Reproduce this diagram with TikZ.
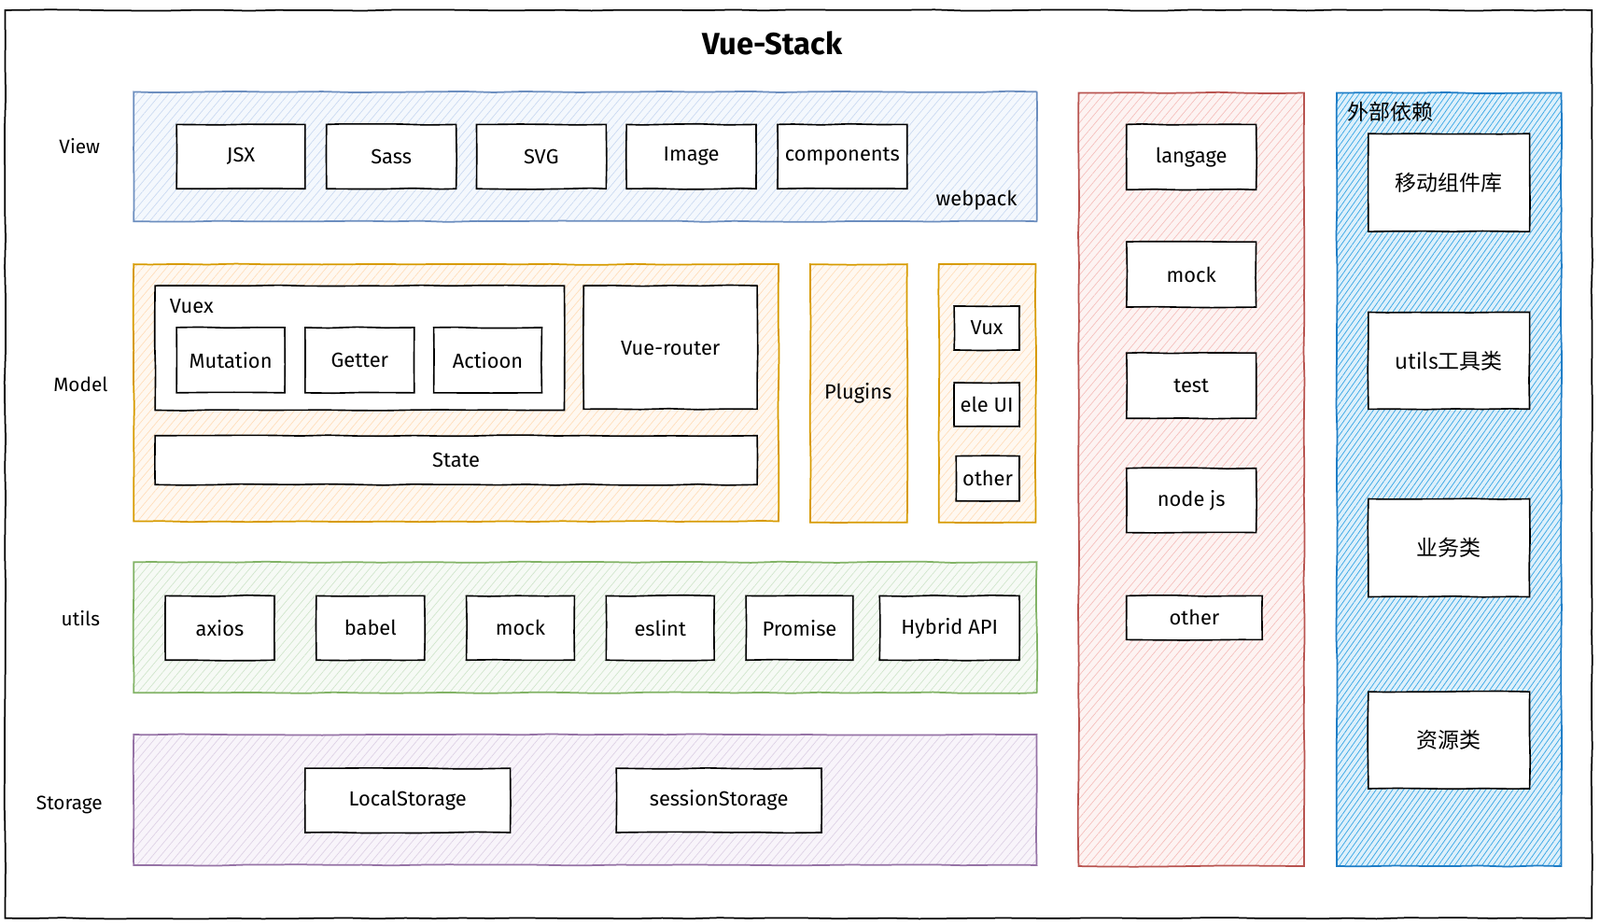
\documentclass[tikz,border=0pt]{standalone}
\usepackage{fontspec}
\setmainfont{Fira Sans}
\newfontfamily\cjk{Noto Sans CJK SC}
\usetikzlibrary{patterns.meta,decorations.pathmorphing}
\definecolor{gBlueS}{HTML}{6C8EBF}\definecolor{gBlueF}{HTML}{F4F8FD}\definecolor{gBlueH}{HTML}{C9D9F1}
\definecolor{gOrS}{HTML}{D79B00}\definecolor{gOrF}{HTML}{FFF8F0}\definecolor{gOrH}{HTML}{FFDDB8}
\definecolor{gGrS}{HTML}{82B366}\definecolor{gGrF}{HTML}{F6FAF5}\definecolor{gGrH}{HTML}{CFE5CA}
\definecolor{gPuS}{HTML}{9673A6}\definecolor{gPuF}{HTML}{F8F4FA}\definecolor{gPuH}{HTML}{DDD0E5}
\definecolor{gReS}{HTML}{B85450}\definecolor{gReF}{HTML}{FDF3F2}\definecolor{gReH}{HTML}{F5BDBA}
\definecolor{gDbS}{HTML}{1F7DC6}\definecolor{gDbF}{HTML}{DDF0FB}\definecolor{gDbH}{HTML}{3DA9E6}
\newcommand{\bx}[7]{\node[#6, minimum width={(#4-#2)*0.5pt}, minimum height={(#5-#3)*0.5pt}] (#1) at ({(#2+#4)/2},{(#3+#5)/2}) {#7};}
\begin{document}
\begin{tikzpicture}[x=0.5pt,y=-0.5pt,
  sk/.style={decorate, decoration={random steps, segment length=14pt, amplitude=0.3pt}},
  inbox/.style={draw=black, fill=white, line width=0.75pt, inner sep=0pt, outer sep=0pt, font=\fontsize{10}{12}\selectfont, sk},
  cjkbox/.style={inbox, font=\cjk\fontsize{10.5}{12}\selectfont},
  grp/.style={line width=0.8pt, inner sep=0pt, outer sep=0pt, sk},
  gblue/.style={grp, draw=gBlueS, preaction={fill=gBlueF}, pattern={Lines[angle=50,distance=3pt,line width=0.3pt]}, pattern color=gBlueH},
  gor/.style={grp, draw=gOrS, preaction={fill=gOrF}, pattern={Lines[angle=50,distance=3pt,line width=0.3pt]}, pattern color=gOrH},
  ggr/.style={grp, draw=gGrS, preaction={fill=gGrF}, pattern={Lines[angle=50,distance=3pt,line width=0.3pt]}, pattern color=gGrH},
  gpu/.style={grp, draw=gPuS, preaction={fill=gPuF}, pattern={Lines[angle=50,distance=3pt,line width=0.3pt]}, pattern color=gPuH},
  gre/.style={grp, draw=gReS, preaction={fill=gReF}, pattern={Lines[angle=50,distance=3pt,line width=0.3pt]}, pattern color=gReH},
  gdb/.style={grp, draw=gDbS, preaction={fill=gDbF}, pattern={Lines[angle=55,distance=2.2pt,line width=0.35pt]}, pattern color=gDbH},
  lbl/.style={font=\fontsize{9.5}{11}\selectfont, inner sep=0pt},
  plain/.style={font=\fontsize{10}{12}\selectfont, inner sep=0pt}
]
\useasboundingbox (0,0) rectangle (1568,905);
\bx{outer}{5}{10}{1560}{900}{draw=black, line width=0.8pt, inner sep=0pt, sk}{}
\node[font=\fontsize{15}{18}\selectfont\bfseries] (title) at (757,42) {Vue-Stack};
% left labels
\node[lbl] (lview) at (78,143) {View};
\node[lbl] (lmodel) at (79,377) {Model};
\node[lbl] (lutils) at (79,606) {utils};
\node[lbl] (lstorage) at (68,789) {Storage};
% View
\bx{view}{131}{90}{1016}{217}{gblue}{}
\bx{jsx}{173}{122}{299}{185}{inbox}{JSX}
\bx{sass}{320}{122}{447}{185}{inbox}{Sass}
\bx{svg}{467}{122}{594}{185}{inbox}{SVG}
\bx{image}{614}{122}{741}{185}{inbox}{Image}
\bx{comp}{762}{122}{889}{185}{inbox}{components}
\node[plain] (webpack) at (957,196) {webpack};
% Model
\bx{model}{131}{259}{763}{511}{gor}{}
\bx{vuex}{152}{280}{553}{402}{inbox}{}
\node[plain, anchor=west] (vuexl) at (166,300) {Vuex};
\bx{mutation}{173}{321}{279}{385}{inbox}{Mutation}
\bx{getter}{299}{321}{406}{385}{inbox}{Getter}
\bx{actioon}{425}{321}{531}{385}{inbox}{Actioon}
\bx{router}{572}{280}{742}{401}{inbox}{}
\node[plain] (routerl) at (657,341) {Vue-router};
\bx{state}{152}{427}{742}{475}{inbox}{State}
\bx{plugins}{794}{259}{889}{512}{gor}{}
\node[plain] (pluginsl) at (841,385) {Plugins};
\bx{uilib}{920}{259}{1015}{512}{gor}{}
\bx{vux}{935}{300}{999}{343}{inbox}{Vux}
\bx{eleui}{935}{375}{999}{418}{inbox}{ele UI}
\bx{mother}{937}{447}{999}{491}{inbox}{other}
% utils
\bx{utils}{131}{551}{1016}{679}{ggr}{}
\bx{axios}{162}{584}{269}{647}{inbox}{axios}
\bx{babel}{310}{584}{416}{647}{inbox}{babel}
\bx{umock}{457}{584}{563}{647}{inbox}{mock}
\bx{eslint}{594}{584}{700}{647}{inbox}{eslint}
\bx{promise}{731}{584}{836}{647}{inbox}{Promise}
\bx{hybrid}{862}{584}{999}{647}{inbox}{Hybrid API}
% Storage
\bx{storage}{131}{720}{1016}{848}{gpu}{}
\bx{local}{299}{753}{500}{816}{inbox}{LocalStorage}
\bx{session}{604}{753}{805}{816}{inbox}{sessionStorage}
% red column
\bx{redcol}{1057}{91}{1278}{849}{gre}{}
\bx{langage}{1104}{122}{1231}{186}{inbox}{langage}
\bx{rmock}{1104}{237}{1231}{301}{inbox}{mock}
\bx{test}{1104}{346}{1231}{410}{inbox}{test}
\bx{nodejs}{1104}{459}{1231}{522}{inbox}{node js}
\bx{rother}{1104}{584}{1237}{627}{inbox}{other}
% blue column
\bx{extcol}{1310}{91}{1530}{849}{gdb}{}
\node[font=\cjk\fontsize{10.5}{12}\selectfont, anchor=west, inner sep=0pt] (extl) at (1320,110) {外部依赖};
\bx{mobile}{1341}{131}{1499}{227}{cjkbox}{移动组件库}
\bx{utiltool}{1341}{306}{1499}{401}{cjkbox}{utils工具类}
\bx{biz}{1341}{489}{1499}{585}{cjkbox}{业务类}
\bx{res}{1341}{678}{1499}{773}{cjkbox}{资源类}
\end{tikzpicture}
\end{document}
